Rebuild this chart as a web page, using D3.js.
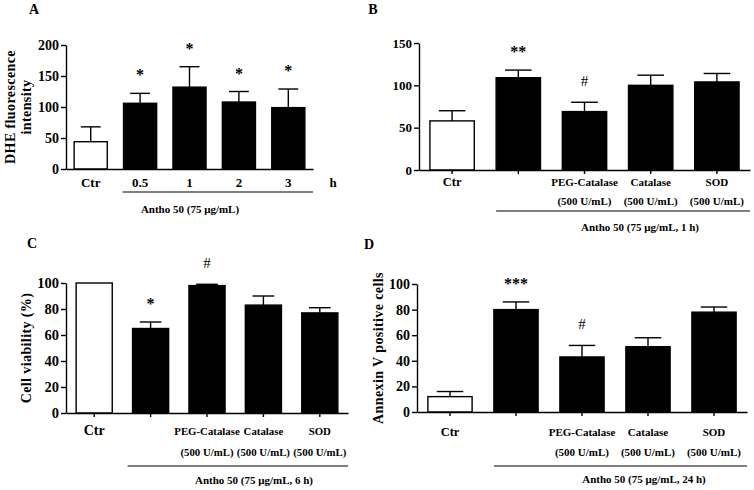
<!DOCTYPE html>
<html><head><meta charset="utf-8">
<script src="https://cdn.jsdelivr.net/npm/d3@7"></script>
<style>
body{margin:0;background:#fff}
svg{display:block;font-family:"Liberation Serif","Times New Roman",serif;font-weight:bold}
</style>
</head><body><svg id="c" width="754" height="490"></svg>
<script>
// ---------- data ----------
const catsA = ["Ctr","0.5","1","2","3"];
const valuesA = [44,106,132,108,99];
const errorsA = [68,122,165,125,129];
const marksA = ["","*","*","*","*"];
const ticksA = [0,50,100,150,200];

const catsT = ["Ctr","Antho 50","PEG-Catalase","Catalase","SOD"];
const labelsT = ["Ctr","","PEG-Catalase","Catalase","SOD"];
const doseT = ["","","(500 U/mL)","(500 U/mL)","(500 U/mL)"];

const valuesB = [58,109,69,100,104];
const errorsB = [70,118,80,112,114];
const marksB = ["","**","#","",""];
const ticksB = [0,50,100,150];

const valuesC = [100,65,98,83,77];
const errorsC = [100,70,99,90,81];
const marksC = ["","*","#","",""];
const ticksC = [0,20,40,60,80,100];

const valuesD = [12,80,43,51,78];
const errorsD = [16,86,52,58,82];
const marksD = ["","***","#","",""];
const ticksD = [0,20,40,60,80,100];

// ---------- drawing ----------
const svg = d3.select("#c");
const SW = 1.4;

function panel(o){
  const g = svg.append("g");
  const x = d3.scaleBand().domain(o.cats).range([o.x0,o.x1]).paddingInner(o.pad).paddingOuter(o.pad/2);
  const y = d3.scaleLinear().domain([0,o.ticks[o.ticks.length-1]]).range([o.y0,o.y1]);
  const rows = o.cats.map((c,i)=>({c,v:o.values[i],e:o.errors[i],m:o.marks[i],l1:o.l1[i],l2:o.l2?o.l2[i]:""}));
  const bw = x.bandwidth();

  // error bars
  const eb = g.append("g").attr("stroke","#000").attr("stroke-width",SW);
  rows.filter(d=>d.e>d.v).forEach(d=>{
    const cx = x(d.c)+bw/2;
    eb.append("line").attr("x1",cx).attr("x2",cx).attr("y1",y(d.v)).attr("y2",y(d.e));
    eb.append("line").attr("x1",cx-bw*0.3).attr("x2",cx+bw*0.3).attr("y1",y(d.e)).attr("y2",y(d.e));
  });

  // bars
  g.append("g").selectAll("rect").data(rows).join("rect")
    .attr("x",d=>x(d.c)).attr("width",bw)
    .attr("y",d=>y(d.v)).attr("height",d=>y(0)-y(d.v))
    .attr("fill",(d,i)=>i===0?"#fff":"#000")
    .attr("stroke","#000").attr("stroke-width",SW);

  // significance marks
  g.append("g").selectAll("text").data(rows.filter(d=>d.m)).join("text")
    .attr("x",d=>x(d.c)+bw/2)
    .attr("y",d=>y(d.e)-(d.m[0]==="#"?16:13))
    .attr("text-anchor","middle")
    .attr("font-size",d=>d.m[0]==="#"?15:16)
    .attr("font-weight",d=>d.m[0]==="#"?"normal":"bold")
    .text(d=>d.m);

  // y axis
  const ya = g.append("g").attr("transform",`translate(${o.x0},0)`)
    .call(d3.axisLeft(y).tickValues(o.ticks).tickSize(5).tickSizeOuter(0).tickPadding(2));
  ya.attr("font-family",null).attr("font-size",o.tickFont);
  ya.selectAll("path,line").attr("stroke","#000").attr("stroke-width",SW);
  ya.selectAll("text").attr("fill","#000");

  // x axis
  const xa = g.append("g").attr("transform",`translate(0,${o.y0})`)
    .call(d3.axisBottom(x).tickSize(o.xTick).tickSizeOuter(0).tickFormat(""));
  xa.selectAll("path,line").attr("stroke","#000").attr("stroke-width",SW);

  // category labels
  g.append("g").selectAll("text").data(rows).join("text")
    .attr("x",d=>x(d.c)+bw/2).attr("y",o.l1y)
    .attr("text-anchor","middle")
    .attr("font-size",(d,i)=>i===0?o.ctrFont:o.catFont)
    .text(d=>d.l1);
  if(o.l2){
    g.append("g").selectAll("text").data(rows).join("text")
      .attr("x",d=>x(d.c)+bw/2).attr("y",o.l2y)
      .attr("text-anchor","middle").attr("font-size",o.catFont)
      .text(d=>d.l2);
  }

  // group underline & label
  const gx0 = x(o.cats[1]) - o.lineLead;
  g.append("line").attr("x1",gx0).attr("x2",o.x1).attr("y1",o.lineY).attr("y2",o.lineY)
    .attr("stroke","#000").attr("stroke-width",1.2);
  g.append("text").attr("x",o.groupX).attr("y",o.groupY).attr("text-anchor","middle")
    .attr("font-size",11).text(o.group);

  // y title
  if(o.ytitle){
    const yt = g.append("text").attr("transform",`translate(${o.ytx},${(o.y0+o.y1)/2}) rotate(-90)`)
      .attr("text-anchor","middle").attr("font-size",14).attr("letter-spacing",0.4);
    o.ytitle.forEach((t,i)=>yt.append("tspan").attr("x",0).attr("dy",i===0?0:o.ytdy).text(t));
  }

  // panel letter
  g.append("text").attr("x",o.lx).attr("y",o.ly).attr("text-anchor","middle").attr("font-size",14).text(o.letter);
  return {g,x,y};
}

const pA = panel({cats:catsA,values:valuesA,errors:errorsA,marks:marksA,ticks:ticksA,l1:catsA,
  x0:66,x1:313,y0:169,y1:45,pad:0.33,tickFont:14,catFont:13,ctrFont:13,xTick:0,l1y:187,
  lineY:192,lineLead:1,groupX:190,groupY:213,group:"Antho  50 (75 μg/mL)",
  ytitle:["DHE fluorescence","intensity"],ytx:15,ytdy:16,letter:"A",lx:34,ly:14});
pA.g.append("text").attr("x",333).attr("y",187).attr("text-anchor","middle").attr("font-size",13).text("h");

panel({cats:catsT,values:valuesB,errors:errorsB,marks:marksB,ticks:ticksB,l1:labelsT,l2:doseT,
  x0:419,x1:750,y0:170,y1:43,pad:0.33,tickFont:13,catFont:11,ctrFont:12.5,xTick:4,l1y:186,l2y:205,
  lineY:211,lineLead:0,groupX:640,groupY:231,group:"Antho  50 (75 μg/mL, 1 h)",
  ytitle:null,letter:"B",lx:373,ly:14});

panel({cats:catsT,values:valuesC,errors:errorsC,marks:marksC,ticks:ticksC,l1:labelsT,l2:doseT,
  x0:66,x1:348,y0:413,y1:283,pad:0.36,tickFont:14.5,catFont:10.8,ctrFont:14,xTick:4,l1y:435,l2y:456,
  lineY:466,lineLead:5,groupX:254,groupY:484,group:"Antho  50 (75 μg/mL, 6 h)",
  ytitle:["Cell viability (%)"],ytx:31,letter:"C",lx:32,ly:248});

panel({cats:catsT,values:valuesD,errors:errorsD,marks:marksD,ticks:ticksD,l1:labelsT,l2:doseT,
  x0:417,x1:747,y0:412,y1:284,pad:0.33,tickFont:14,catFont:11,ctrFont:12.5,xTick:4,l1y:436,l2y:456,
  lineY:466,lineLead:0,groupX:644,groupY:483,group:"Antho  50 (75 μg/mL, 24 h)",
  ytitle:["Annexin V positive cells"],ytx:383,letter:"D",lx:369,ly:249});
</script>
</body></html>
